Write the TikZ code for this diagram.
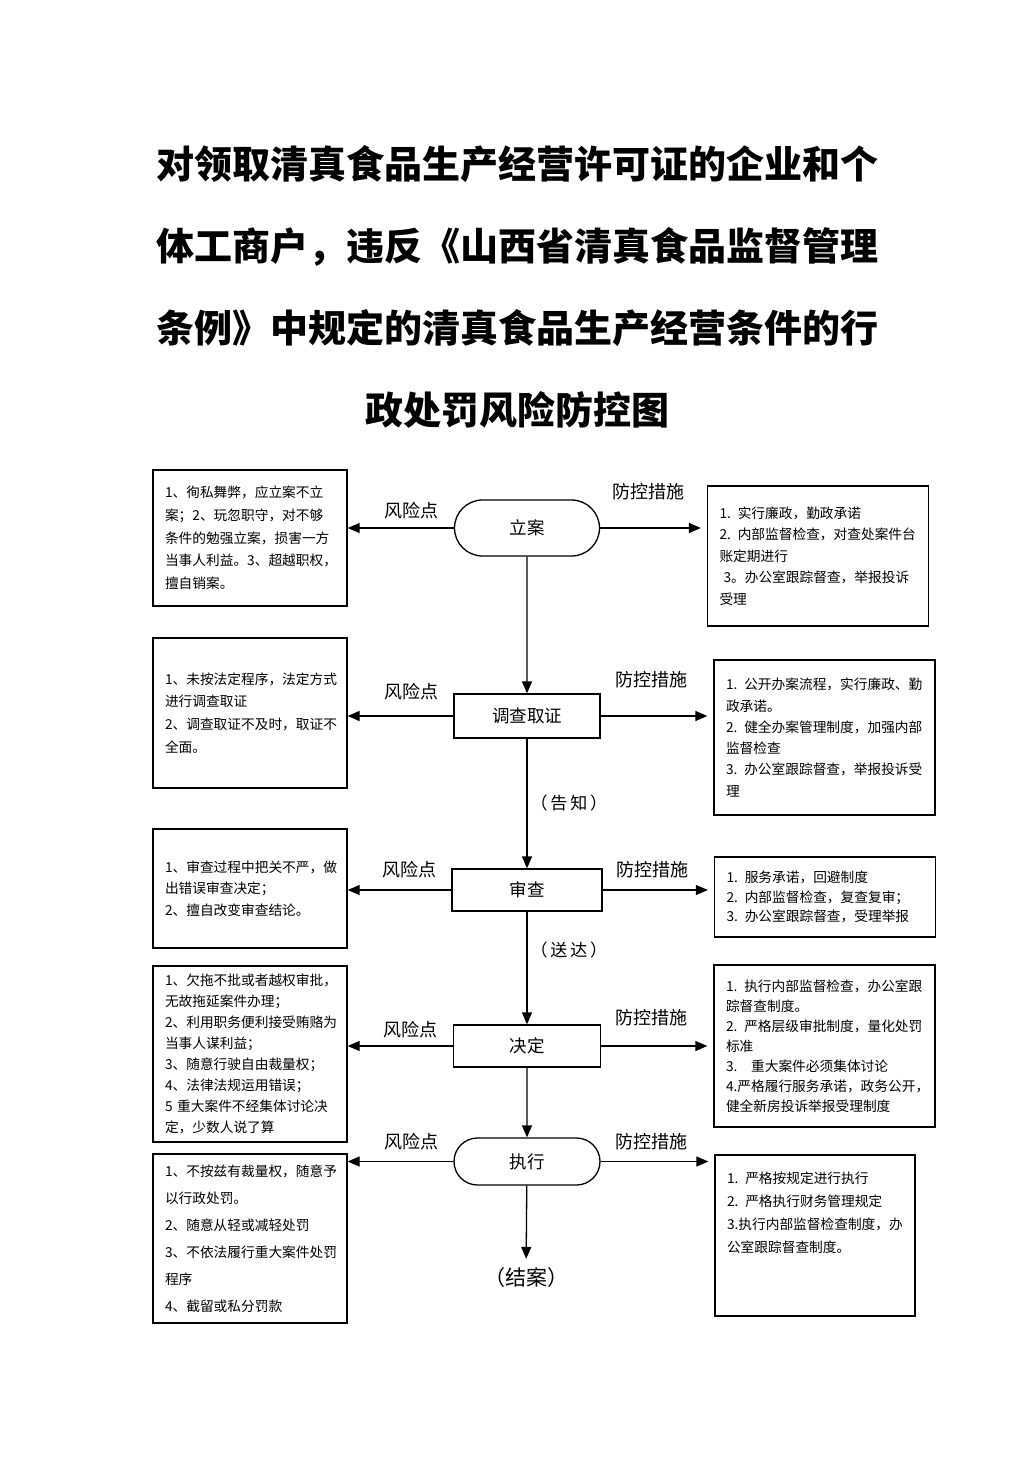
\documentclass[tikz,border=0pt]{standalone}
\usepackage{fontspec}
\newfontfamily\cjk{Noto Sans CJK SC}
\usetikzlibrary{arrows.meta,positioning,shapes.misc}

\newcommand{\boxfont}[1]{\cjk\fontsize{13.7pt}{#1}\selectfont}

\tikzset{
  stagebox/.style={draw,line width=1.3pt,inner sep=2pt,
    font=\cjk\fontsize{17.5pt}{20pt}\selectfont},
  stageround/.style={stagebox,rounded rectangle},
  notebox/.style={draw,line width=1.3pt,align=left,inner xsep=12pt,inner ysep=2pt,
    font=\boxfont{21.5pt}},
  riskbox/.style={notebox,minimum width=194pt,text width=170pt},
  ctrlbox/.style={notebox,minimum width=221pt,text width=197pt},
  flowarrow/.style={line width=1.3pt,-{Triangle[length=12pt,width=10pt]}},
  sidetag/.style={font=\cjk\fontsize{18pt}{20pt}\selectfont,inner sep=0pt},
  steptag/.style={font=\cjk\fontsize{17pt}{20pt}\selectfont,inner sep=0pt}
}

\begin{document}
\begin{tikzpicture}[x=1pt,y=-1pt]
\useasboundingbox (0,0) rectangle (1033,1461);

% title
\node[font=\cjk\bfseries\fontsize{38pt}{82pt}\selectfont,align=center] (title) at (517,287)
  {对领取清真食品生产经营许可证的企业和个\\体工商户，违反《山西省清真食品监督管理\\
   条例》中规定的清真食品生产经营条件的行\\政处罚风险防控图};

% main flow
\node[stageround,minimum width=149pt,minimum height=56pt] (lian) at (527,528) {立案};
\node[stagebox,minimum width=146pt,minimum height=44pt] (diaocha) at (527,716) {调查取证};
\node[stagebox,minimum width=150pt,minimum height=42pt] (shencha) at (527,890) {审查};
\node[stagebox,minimum width=147pt,minimum height=42pt] (jueding) at (527,1046) {决定};
\node[stageround,minimum width=150pt,minimum height=47pt] (zhixing) at (527,1161.5) {执行};
\node[steptag,font=\cjk\fontsize{21pt}{24pt}\selectfont] (jiean) at (526,1278) {（结案）};

% risk points (left)
\node[riskbox,minimum height=136pt,font=\boxfont{22.7pt}] (risk1) at (250,538)
  {1、徇私舞弊，应立案不立\\案；2、玩忽职守，对不够\\条件的勉强立案，损害一方\\
   当事人利益。3、超越职权，\\擅自销案。};
\node[riskbox,minimum height=150pt,font=\boxfont{22.7pt}] (risk2) at (250,713)
  {1、未按法定程序，法定方式\\进行调查取证\\2、调查取证不及时，取证不\\全面。};
\node[riskbox,minimum height=119pt] (risk3) at (250,888.5)
  {1、审查过程中把关不严，做\\出错误审查决定；\\2、擅自改变审查结论。};
\node[riskbox,minimum height=176pt,font=\boxfont{21pt}] (risk4) at (250,1054)
  {1、欠拖不批或者越权审批，\\无故拖延案件办理；\\2、利用职务便利接受贿赂为\\
   当事人谋利益；\\3、随意行驶自由裁量权；\\4、法律法规运用错误；\\
   5 重大案件不经集体讨论决\\定，少数人说了算};
\node[riskbox,minimum height=169pt,font=\boxfont{27pt}] (risk5) at (250,1238.5)
  {1、不按兹有裁量权，随意予\\以行政处罚。\\2、随意从轻或减轻处罚\\
   3、不依法履行重大案件处罚\\程序\\4、截留或私分罚款};

% control measures (right)
\node[ctrlbox,minimum height=140pt] (ctrl1) at (818,556)
  {1.\enspace 实行廉政，勤政承诺\\2.\enspace 内部监督检查，对查处案件台\\账定期进行\\
   \hspace*{4pt}3。办公室跟踪督查，举报投诉\\受理};
\node[ctrlbox,minimum height=155pt,font=\boxfont{21.3pt}] (ctrl2) at (824.5,737.5)
  {1.\enspace 公开办案流程，实行廉政、勤\\政承诺。\\2.\enspace 健全办案管理制度，加强内部\\
   监督检查\\3.\enspace 办公室跟踪督查，举报投诉受\\理};
\node[ctrlbox,minimum height=80pt,font=\boxfont{19.5pt}] (ctrl3) at (825,897)
  {1.\enspace 服务承诺，回避制度\\2.\enspace 内部监督检查，复查复审；\\
   3.\enspace 办公室跟踪督查，受理举报};
\node[ctrlbox,minimum height=162pt,font=\boxfont{20pt}] (ctrl4) at (824.5,1046)
  {1.\enspace 执行内部监督检查，办公室跟\\踪督查制度。\\2.\enspace 严格层级审批制度，量化处罚\\
   标准\\3.\enspace\enspace 重大案件必须集体讨论\\4.严格履行服务承诺，政务公开，\\
   健全新房投诉举报受理制度};
\node[ctrlbox,minimum width=200pt,text width=176pt,minimum height=161pt,font=\boxfont{23pt}]
  (ctrl5) at (815,1235.5)
  {1.\enspace 严格按规定进行执行\\2.\enspace 严格执行财务管理规定\\
   3.执行内部监督检查制度，办\\公室跟踪督查制度。\\\mbox{}\\\mbox{}};

% vertical flow
\draw[flowarrow] (lian) -- (diaocha);
\draw[flowarrow] (diaocha) -- node[steptag,right=3pt]{（\,告\,知\,）} (shencha);
\draw[flowarrow] (shencha) -- node[steptag,right=3pt,pos=0.34]{（\,送\,达\,）} (jueding);
\draw[flowarrow] (jueding) -- (zhixing);
\draw[flowarrow,shorten >=9pt] (zhixing) -- (jiean);

% side arrows
\draw[flowarrow] (lian.west) -- node[sidetag,above=8pt,pos=0.4]{风险点} (lian.west -| risk1.east);
\draw[flowarrow,shorten >=6pt] (lian.east) -- node[sidetag,above=27pt,pos=0.45]{防控措施} (lian.east -| ctrl1.west);
\draw[flowarrow] (diaocha.west) -- node[sidetag,above=15pt,pos=0.4]{风险点} (diaocha.west -| risk2.east);
\draw[flowarrow,shorten >=6pt] (diaocha.east) -- node[sidetag,above=27pt,pos=0.45]{防控措施} (diaocha.east -| ctrl2.west);
\draw[flowarrow] (shencha.west) -- node[sidetag,above=11pt,pos=0.4]{风险点} (shencha.west -| risk3.east);
\draw[flowarrow,shorten >=6pt] (shencha.east) -- node[sidetag,above=11pt,pos=0.45]{防控措施} (shencha.east -| ctrl3.west);
\draw[flowarrow] (jueding.west) -- node[sidetag,above=7pt,pos=0.4]{风险点} (jueding.west -| risk4.east);
\draw[flowarrow,shorten >=6pt] (jueding.east) -- node[sidetag,above=19pt,pos=0.45]{防控措施} (jueding.east -| ctrl4.west);
\draw[flowarrow] (zhixing.west) -- node[sidetag,above=11pt,pos=0.4]{风险点} (zhixing.west -| risk5.east);
\draw[flowarrow,shorten >=6pt] (zhixing.east) -- node[sidetag,above=11pt,pos=0.45]{防控措施} (zhixing.east -| ctrl5.west);
\end{tikzpicture}
\end{document}
